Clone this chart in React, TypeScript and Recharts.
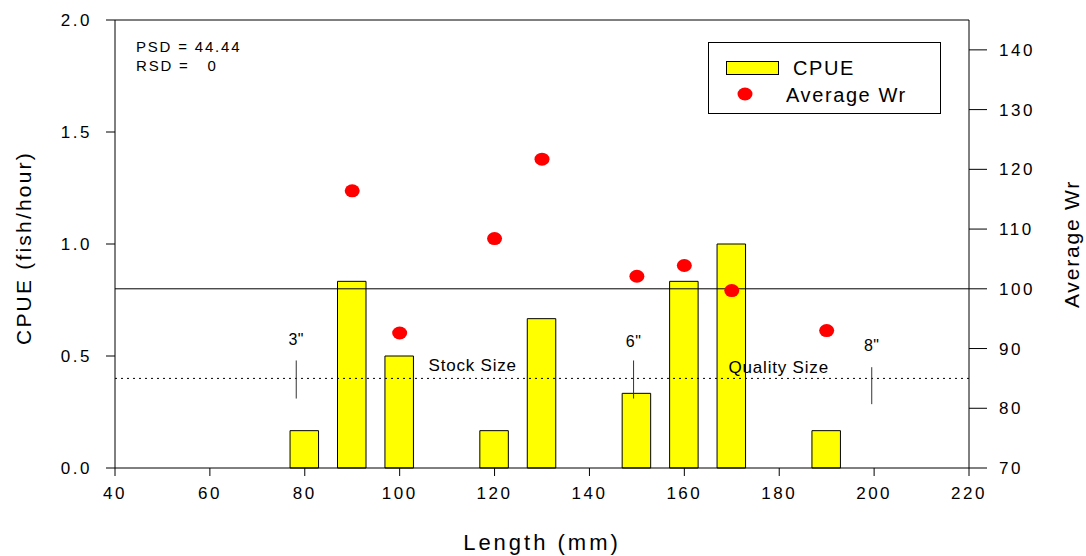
import React from 'react';
import {
  ComposedChart,
  Bar,
  Line,
  XAxis,
  YAxis,
  ReferenceLine,
  ReferenceDot,
  Legend,
} from 'recharts';

// Length classes (mm) with catch per unit effort and mean relative weight
const lengths = [80, 90, 100, 120, 130, 150, 160, 170, 190];
const cpueValues = [0.1667, 0.8333, 0.5, 0.1667, 0.6667, 0.3333, 0.8333, 1.0, 0.1667];
const wrValues: (number | null)[] = [null, 116.4, 92.6, 108.4, 121.7, 102.1, 103.9, 99.7, 93.0];

// Axis ticks
const lengthTicks = [40, 60, 80, 100, 120, 140, 160, 180, 200, 220];
const cpueTicks = [0, 0.5, 1.0, 1.5, 2.0];
const wrTicks = [70, 80, 90, 100, 110, 120, 130, 140];

// Inch markers along the length axis
const sizeMarkLabels = ['3"', '6"', '8"'];
const sizeMarkLengths = [78.2, 149.3, 199.5];
const sizeMarkTops = [0.48, 0.48, 0.45];
const sizeMarkBottoms = [0.31, 0.31, 0.285];
const sizeMarkLabelCpue = [0.575, 0.567, 0.547];

// Size category captions
const categoryLabels = ['Stock Size', 'Quality Size'];
const categoryLabelLengths = [115.4, 179.9];
const categoryLabelCpue = [0.46, 0.45];

// Reference levels
const stockLineCpue = 0.4;
const wrTarget = 100;

// Stock density indices
const indexLines = ['PSD = 44.44', 'RSD =   0'];

const data = lengths.map((length, i) => ({
  length,
  cpue: cpueValues[i],
  wr: wrValues[i],
}));

const FONT = '"Liberation Sans", Arial, Helvetica, sans-serif';
const AXIS_COLOR = '#000';
const BAR_FILL = '#ffff00';
const DOT_FILL = '#ff0000';

const tickStyle = { fontSize: 17, fill: '#000', fontFamily: FONT, letterSpacing: 2.5 };

const renderWrDot = (props: any) => {
  const { cx, cy, index, value } = props;
  if (value == null || !Number.isFinite(cx) || !Number.isFinite(cy)) {
    return <g key={`wr-${index}`} />;
  }
  return <ellipse key={`wr-${index}`} cx={cx} cy={cy} rx={7.5} ry={6.5} fill={DOT_FILL} />;
};

const renderLegend = (props: any) => {
  const payload: any[] = props.payload || [];
  const barEntry = payload.find((p) => p.dataKey === 'cpue');
  const dotEntry = payload.find((p) => p.dataKey === 'wr');
  const textStyle = { fontSize: 20, fontFamily: FONT, letterSpacing: 1.6, fill: '#000' };
  return (
    <svg width={233} height={72} style={{ display: 'block' }}>
      <rect x={0.5} y={0.5} width={232} height={71} fill="#fff" stroke="#000" strokeWidth={1} />
      {barEntry && (
        <g>
          <rect x={18.5} y={19.5} width={52} height={13} fill={BAR_FILL} stroke="#000" strokeWidth={1} />
          <text x={85} y={33} style={textStyle}>{barEntry.value}</text>
        </g>
      )}
      {dotEntry && (
        <g>
          <ellipse cx={37} cy={52} rx={7.5} ry={6.5} fill={DOT_FILL} />
          <text x={78} y={60} style={textStyle}>{dotEntry.value}</text>
        </g>
      )}
    </svg>
  );
};

const leftTitle = (props: any) => {
  const vb = props.viewBox || { x: 0, y: 0, width: 0, height: 0 };
  const x = vb.x + 30.5;
  const y = vb.y + vb.height / 2 + 4;
  return (
    <text
      x={x}
      y={y}
      transform={`rotate(-90 ${x} ${y})`}
      textAnchor="middle"
      style={{ fontSize: 21, fontFamily: FONT, letterSpacing: 2.2, fill: '#000' }}
    >
      CPUE (fish/hour)
    </text>
  );
};

const rightTitle = (props: any) => {
  const vb = props.viewBox || { x: 0, y: 0, width: 0, height: 0 };
  const x = vb.x + 110;
  const y = vb.y + vb.height / 2;
  return (
    <text
      x={x}
      y={y}
      transform={`rotate(-90 ${x} ${y})`}
      textAnchor="middle"
      style={{ fontSize: 21, fontFamily: FONT, letterSpacing: 1.8, fill: '#000' }}
    >
      Average Wr
    </text>
  );
};

export default function App() {
  return (
    <div style={{ position: 'absolute', left: 0, top: 0, width: 1086, height: 556, background: '#fff' }}>
      <ComposedChart
        width={1086}
        height={556}
        data={data}
        margin={{ top: 20, right: 0, bottom: 0, left: 0 }}
      >
        <XAxis
          dataKey="length"
          type="number"
          domain={[40, 220]}
          ticks={lengthTicks}
          interval={0}
          height={88}
          tickSize={8}
          tickMargin={11}
          axisLine={{ stroke: AXIS_COLOR }}
          tickLine={{ stroke: AXIS_COLOR }}
          tick={tickStyle}
          label={{
            value: 'Length (mm)',
            position: 'insideBottom',
            offset: 6,
            style: { fontSize: 22, fontFamily: FONT, letterSpacing: 3, fill: '#000' },
          }}
        />
        <YAxis
          yAxisId="left"
          orientation="left"
          domain={[0, 2]}
          ticks={cpueTicks}
          interval={0}
          width={115}
          tickSize={9}
          tickMargin={14}
          tickFormatter={(v: number) => v.toFixed(1)}
          axisLine={{ stroke: AXIS_COLOR }}
          tickLine={{ stroke: AXIS_COLOR }}
          tick={tickStyle}
          label={{ content: leftTitle }}
        />
        <YAxis
          yAxisId="right"
          orientation="right"
          domain={[70, 145]}
          ticks={wrTicks}
          interval={0}
          width={117}
          tickSize={18}
          tickMargin={12}
          axisLine={{ stroke: AXIS_COLOR }}
          tickLine={{ stroke: AXIS_COLOR }}
          tick={tickStyle}
          label={{ content: rightTitle }}
        />

        <Bar
          dataKey="cpue"
          name="CPUE"
          yAxisId="left"
          fill={BAR_FILL}
          stroke="#000"
          strokeWidth={1}
          barSize={28.5}
          isAnimationActive={false}
        />

        {/* frame top edge */}
        <ReferenceLine yAxisId="left" y={2} stroke={AXIS_COLOR} strokeWidth={1} />
        <ReferenceLine yAxisId="right" y={wrTarget} stroke="#000" strokeWidth={1} />
        <ReferenceLine yAxisId="left" y={stockLineCpue} stroke="#000" strokeWidth={1} strokeDasharray="2 4" />

        {sizeMarkLengths.map((len, i) => (
          <ReferenceLine
            key={`mark-${i}`}
            yAxisId="left"
            segment={[
              { x: len, y: sizeMarkBottoms[i] },
              { x: len, y: sizeMarkTops[i] },
            ]}
            stroke="#333"
            strokeWidth={1}
          />
        ))}

        <Line
          dataKey="wr"
          name="Average Wr"
          yAxisId="right"
          stroke={DOT_FILL}
          strokeWidth={0}
          connectNulls={false}
          dot={renderWrDot}
          activeDot={false}
          legendType="circle"
          isAnimationActive={false}
        />

        {sizeMarkLengths.map((len, i) => (
          <ReferenceDot
            key={`mark-label-${i}`}
            yAxisId="left"
            x={len}
            y={sizeMarkLabelCpue[i]}
            r={0}
            fill="none"
            stroke="none"
            label={{
              value: sizeMarkLabels[i],
              position: 'center',
              style: { fontSize: 16, fontFamily: FONT, letterSpacing: 0.5, fill: '#000' },
            }}
          />
        ))}

        {categoryLabels.map((text, i) => (
          <ReferenceDot
            key={`cat-${i}`}
            yAxisId="left"
            x={categoryLabelLengths[i]}
            y={categoryLabelCpue[i]}
            r={0}
            fill="none"
            stroke="none"
            label={{
              value: text,
              position: 'center',
              style: { fontSize: 17, fontFamily: FONT, letterSpacing: 0.8, fill: '#000' },
            }}
          />
        ))}

        <Legend
          layout="vertical"
          align="center"
          verticalAlign="middle"
          content={renderLegend}
          wrapperStyle={{ left: 708, top: 42, width: 233, height: 72 }}
        />
      </ComposedChart>

      <div
        style={{
          position: 'absolute',
          left: 136,
          top: 37.3,
          fontFamily: FONT,
          fontSize: 15,
          lineHeight: '19px',
          letterSpacing: 1.8,
          whiteSpace: 'pre',
          color: '#000',
        }}
      >
        {indexLines.map((line) => (
          <div key={line}>{line}</div>
        ))}
      </div>
    </div>
  );
}
